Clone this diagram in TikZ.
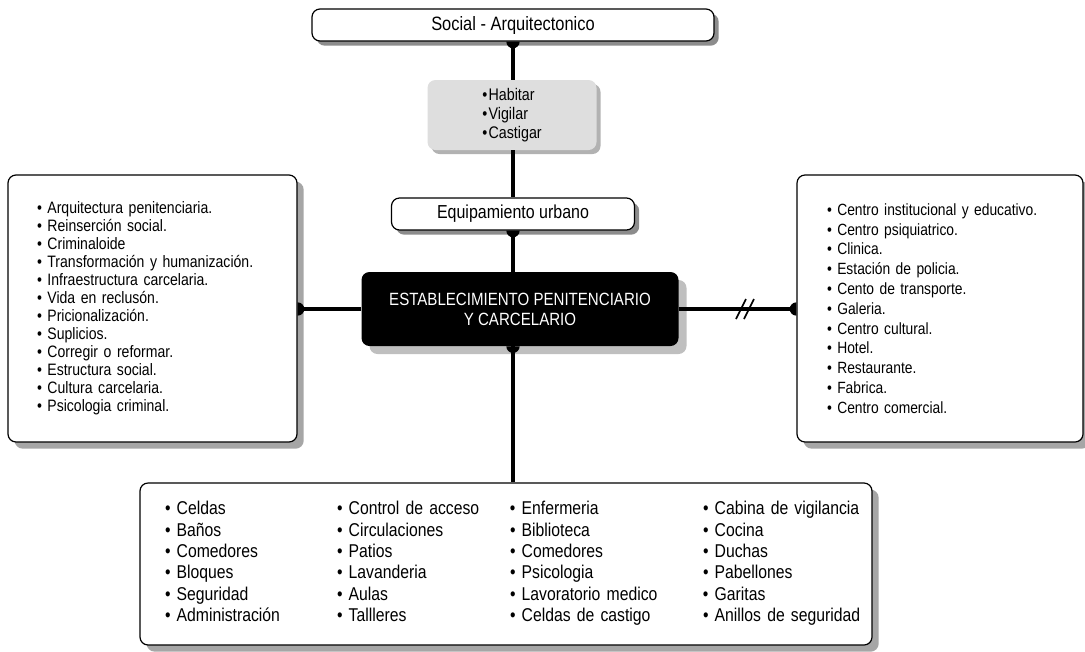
\documentclass[tikz,border=0pt]{standalone}
\usepackage{fontspec}
\setmainfont{Liberation Sans}[FakeStretch=0.85]
\usetikzlibrary{shadows,positioning}
\newcommand\itm{\textbullet\ }
\tikzset
{
    plainbox/.style  = {rectangle, draw=black, line width=0.9pt, rounded corners=6pt, fill=white, align=center, inner sep=0pt},
    titlebox/.style  = {plainbox, drop shadow={shadow xshift=3.5pt, shadow yshift=-3.5pt, fill=black!45, opacity=1}},
    listbox/.style   = {plainbox, align=left, drop shadow={shadow xshift=5pt, shadow yshift=-5pt, fill=black!35, opacity=1}},
    verbbox/.style   = {rectangle, rounded corners=6pt, fill=black!13, align=left, inner sep=0pt, drop shadow={shadow xshift=3pt, shadow yshift=-3pt, fill=black!30, opacity=1}},
    mainbox/.style   = {rectangle, rounded corners=6pt, fill=black, text=white, align=center, inner sep=0pt, drop shadow={shadow xshift=6pt, shadow yshift=-6pt, fill=black!25, opacity=1}},
    link/.style      = {line width=2.8pt},
    breakmark/.style = {line width=1.2pt},
    blob/.pic        = {\fill (0,-5pt) arc[start angle=-90, end angle=90, radius=5pt] -- cycle;}
}

\begin{document}
\begin{tikzpicture}[x=0.75pt, y=-0.75pt]
   \useasboundingbox (0,0) rectangle (1085,651);

   \node (soc)    [titlebox, minimum width=301.5pt, minimum height=24pt, font=\fontsize{14.5}{17}\selectfont] at (513,25)  {Social - Arquitectonico};
   \node (verbs)  [verbbox, minimum width=126.75pt, minimum height=52.5pt, font=\fontsize{12.6}{14}\selectfont] at (512,115) {\textbullet\kern1pt Habitar\\ \textbullet\kern1pt Vigilar\\ \textbullet\kern1pt Castigar};
   \node (equip)  [titlebox, minimum width=182.25pt, minimum height=24pt, font=\fontsize{14.1}{17}\selectfont] at (513,214) {Equipamiento urbano};
   \node (estab)  [mainbox, minimum width=237.75pt, minimum height=55.5pt, font=\fontsize{13.3}{15}\selectfont] at (520,309) {ESTABLECIMIENTO PENITENCIARIO\\ Y CARCELARIO};

   \node (theory) [listbox, minimum width=216.75pt, minimum height=200.25pt, inner xsep=21.75pt, text width=173.25pt, font=\fontsize{12.4}{13.5}\selectfont] at (152.5,308.5)
      {\itm Arquitectura penitenciaria.\\
       \itm Reinserción social.\\
       \itm Criminaloide\\
       \itm Transformación y humanización.\\
       \itm Infraestructura carcelaria.\\
       \itm Vida en reclusón.\\
       \itm Pricionalización.\\
       \itm Suplicios.\\
       \itm Corregir o reformar.\\
       \itm Estructura social.\\
       \itm Cultura carcelaria.\\
       \itm Psicologia criminal.};

   \node (uses)   [listbox, minimum width=214.5pt, minimum height=200.25pt, inner xsep=22.5pt, text width=169.5pt, font=\fontsize{12.2}{14.85}\selectfont] at (940,308.5)
      {\itm Centro institucional y educativo.\\
       \itm Centro psiquiatrico.\\
       \itm Clinica.\\
       \itm Estación de policia.\\
       \itm Cento de transporte.\\
       \itm Galeria.\\
       \itm Centro cultural.\\
       \itm Hotel.\\
       \itm Restaurante.\\
       \itm Fabrica.\\
       \itm Centro comercial.};

   \node (spaces) [listbox, minimum width=549pt, minimum height=121.5pt, inner xsep=18.75pt, text width=511.5pt, font=\fontsize{13.9}{16}\selectfont] at (506,564)
      {\begin{tabular}{@{}p{129pt}@{}p{129.75pt}@{}p{144.75pt}@{}l@{}}
       \itm Celdas         & \itm Control de acceso & \itm Enfermeria         & \itm Cabina de vigilancia\\
       \itm Baños          & \itm Circulaciones     & \itm Biblioteca         & \itm Cocina\\
       \itm Comedores      & \itm Patios            & \itm Comedores          & \itm Duchas\\
       \itm Bloques        & \itm Lavanderia        & \itm Psicologia         & \itm Pabellones\\
       \itm Seguridad      & \itm Aulas             & \itm Lavoratorio medico & \itm Garitas\\
       \itm Administración & \itm Tallleres         & \itm Celdas de castigo  & \itm Anillos de seguridad
       \end{tabular}};

   % connectors
   \draw[link] (soc.south) -- (soc.south |- verbs.north);
   \draw[link] (soc.south |- verbs.south) -- (equip.north);
   \draw[link] (equip.south) -- (equip.south |- estab.north);
   \draw[link] (equip.south |- estab.south) -- (equip.south |- spaces.north);
   \draw[link] (estab.west) -- (estab.west -| theory.east);
   \draw[link] (estab.east) -- (estab.east -| uses.west);

   \pic[rotate=-90] at (soc.south) {blob};
   \pic[rotate=-90] at (equip.south) {blob};
   \pic[rotate=-90] at (equip.south |- estab.south) {blob};
   \pic at (estab.west -| theory.east) {blob};
   \pic[rotate=180] at (estab.east -| uses.west) {blob};

   % break on the right link
   \coordinate (brk) at (747,309);
   \draw[breakmark] ([shift={(-11,10)}]brk) -- ([shift={(-1,-10)}]brk);
   \draw[breakmark] ([shift={(-3,10)}]brk) -- ([shift={(7,-10)}]brk);
\end{tikzpicture}
\end{document}
